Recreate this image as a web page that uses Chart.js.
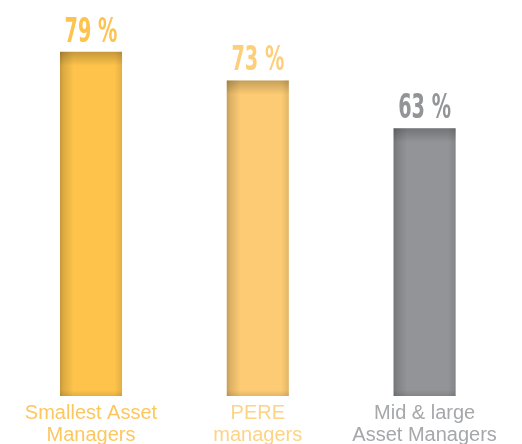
<!DOCTYPE html>
<html>
<head>
<meta charset="utf-8">
<script src="https://cdn.jsdelivr.net/npm/chart.js@4/dist/chart.umd.min.js"></script>
<style>
html,body{margin:0;padding:0;background:#fff;}
#wrap{width:522px;height:444px;position:relative;}
</style>
</head>
<body>
<div id="wrap"><canvas id="c" width="522" height="444"></canvas></div>
<script>
const categories = [["Smallest Asset","Managers"],["PERE","managers"],["Mid & large","Asset Managers"]];
const values = [79, 73, 63];
const valueLabels = ["79 %", "73 %", "63 %"];
const axisMin = 7;
const axisMax = 89;
const barColors = ["#FDC34B", "#FCCB73", "#929497"];
const labelColors = ["#FDC760", "#FDD386", "#A5A7AA"];
const valueColors = ["#FDC34D", "#FDCF7B", "#929497"];

const shadePlugin = {
  id: 'shade',
  afterDatasetsDraw(chart) {
    const ctx = chart.ctx;
    const meta = chart.getDatasetMeta(0);
    meta.data.forEach((bar, i) => {
      const p = bar.getProps(['x','y','base','width'], true);
      const l = p.x - p.width/2, r = p.x + p.width/2, t = p.y, b = p.base;
      ctx.save();
      let g = ctx.createLinearGradient(l, 0, r, 0);
      g.addColorStop(0, 'rgba(0,0,0,0.22)');
      g.addColorStop(0.06, 'rgba(0,0,0,0.12)');
      g.addColorStop(0.22, 'rgba(0,0,0,0.0)');
      g.addColorStop(0.88, 'rgba(0,0,0,0.0)');
      g.addColorStop(1, 'rgba(0,0,0,0.10)');
      ctx.fillStyle = g;
      ctx.fillRect(l, t, r - l, b - t);
      g = ctx.createLinearGradient(0, t, 0, t + 14);
      g.addColorStop(0, 'rgba(0,0,0,0.22)');
      g.addColorStop(1, 'rgba(0,0,0,0)');
      ctx.fillStyle = g;
      ctx.fillRect(l, t, r - l, 14);
      g = ctx.createLinearGradient(0, b - 6, 0, b);
      g.addColorStop(0, 'rgba(0,0,0,0)');
      g.addColorStop(1, 'rgba(0,0,0,0.10)');
      ctx.fillStyle = g;
      ctx.fillRect(l, b - 6, r - l, 6);
      ctx.restore();

      ctx.save();
      ctx.font = 'bold 34px "Liberation Sans Narrow", "DejaVu Sans Condensed", sans-serif';
      ctx.fillStyle = valueColors[i];
      ctx.textAlign = 'center';
      ctx.textBaseline = 'alphabetic';
      ctx.translate(p.x, t - 10);
      ctx.scale(0.63, 1);
      ctx.fillText(valueLabels[i], 0, 0);
      ctx.restore();
    });
  }
};

new Chart(document.getElementById('c'), {
  type: 'bar',
  data: {
    labels: categories,
    datasets: [{
      data: values,
      base: axisMin,
      backgroundColor: barColors,
      borderWidth: 0,
      categoryPercentage: 1,
      barPercentage: 0.372
    }]
  },
  options: {
    responsive: false,
    animation: false,
    layout: { padding: { left: 7.6, right: 14, top: 4, bottom: 0 } },
    plugins: { legend: { display: false }, tooltip: { enabled: false } },
    scales: {
      y: { display: false, min: axisMin, max: axisMax },
      x: {
        grid: { display: false, drawTicks: false },
        border: { display: false },
        afterFit(scale) { scale.height = 48; },
        ticks: {
          padding: 6,
          color: labelColors,
          maxRotation: 0,
          autoSkip: false,
          font: { family: '"Liberation Sans", Arial, sans-serif', size: 20, lineHeight: 1.1 }
        }
      }
    }
  },
  plugins: [shadePlugin]
});
</script>
</body>
</html>
